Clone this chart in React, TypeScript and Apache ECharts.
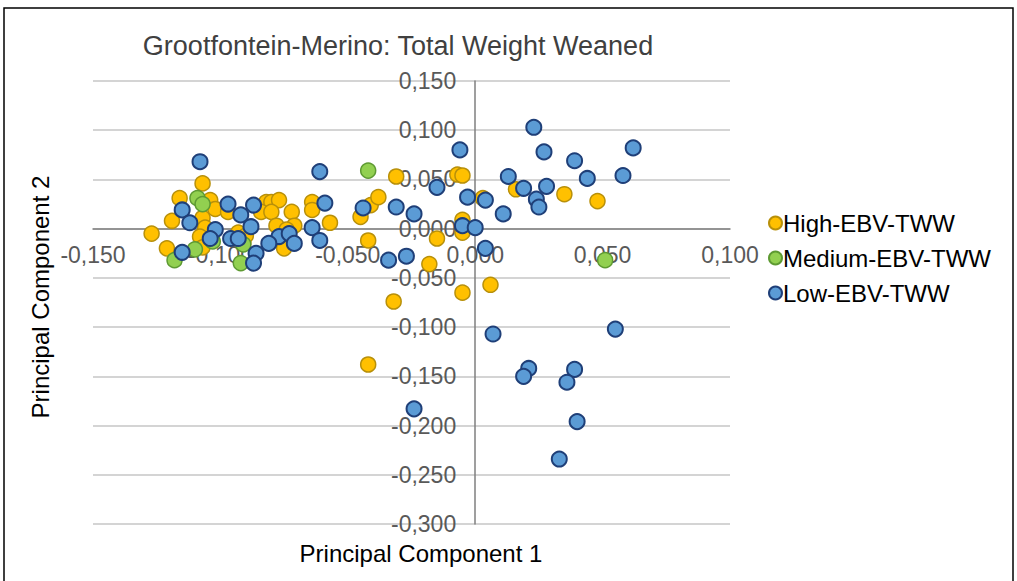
import React, { useEffect, useRef } from "react";
import * as echarts from "echarts";

// Principal component scores (PC1, PC2) per EBV group
const highEbv: [number, number][] = [
  [-0.127, -0.005], [-0.121, -0.020], [-0.119, 0.008], [-0.116, 0.031], [-0.107, 0.046],
  [-0.104, 0.029], [-0.102, 0.020], [-0.097, 0.017], [-0.107, 0.011], [-0.106, 0.001],
  [-0.108, -0.008], [-0.107, -0.019], [-0.093, -0.004], [-0.091, -0.014], [-0.090, -0.007],
  [-0.082, 0.027], [-0.080, 0.027], [-0.077, 0.029], [-0.084, 0.017], [-0.080, 0.017],
  [-0.072, 0.017], [-0.078, 0.003], [-0.071, 0.003], [-0.074, -0.001], [-0.075, -0.020],
  [-0.064, 0.027], [-0.064, 0.019], [-0.057, 0.006], [-0.045, 0.012], [-0.041, 0.024],
  [-0.038, 0.032], [-0.031, 0.053], [-0.042, -0.012], [-0.007, 0.055], [-0.005, 0.054],
  [0.003, 0.031], [-0.005, 0.009], [-0.005, -0.004], [-0.015, -0.010], [-0.018, -0.036],
  [0.006, -0.057], [-0.005, -0.065], [-0.032, -0.074], [-0.042, -0.138], [0.016, 0.040],
  [0.035, 0.035], [0.048, 0.028],
];

const mediumEbv: [number, number][] = [
  [-0.109, 0.031], [-0.107, 0.025], [-0.103, -0.013], [-0.118, -0.032], [-0.110, -0.021],
  [-0.092, -0.035], [-0.091, -0.016], [-0.042, 0.059], [0.051, -0.032],
];

const lowEbv: [number, number][] = [
  [-0.108, 0.068], [-0.115, 0.019], [-0.112, 0.006], [-0.115, -0.024], [-0.102, -0.001],
  [-0.104, -0.010], [-0.097, 0.025], [-0.096, -0.010], [-0.093, -0.010], [-0.092, 0.014],
  [-0.087, 0.024], [-0.088, 0.002], [-0.086, -0.025], [-0.087, -0.035], [-0.077, -0.008],
  [-0.073, -0.005], [-0.071, -0.015], [-0.081, -0.015], [-0.061, 0.058], [-0.059, 0.026],
  [-0.064, 0.001], [-0.061, -0.012], [-0.044, 0.021], [-0.031, 0.022], [-0.024, 0.015],
  [-0.034, -0.032], [-0.027, -0.028], [-0.006, 0.080], [-0.015, 0.042], [-0.003, 0.032],
  [0.004, 0.029], [-0.005, 0.003], [0.000, 0.001], [0.004, -0.020], [0.007, -0.107],
  [-0.024, -0.183], [0.011, 0.015], [0.013, 0.053], [0.019, 0.041], [0.023, 0.103],
  [0.027, 0.078], [0.028, 0.043], [0.024, 0.030], [0.025, 0.022], [0.039, 0.069],
  [0.044, 0.051], [0.058, 0.054], [0.062, 0.082], [0.055, -0.102], [0.021, -0.142],
  [0.019, -0.150], [0.039, -0.143], [0.036, -0.156], [0.040, -0.196], [0.033, -0.234],
];

const seriesNames = ["High-EBV-TWW", "Medium-EBV-TWW", "Low-EBV-TWW"];
const chartTitle = "Grootfontein-Merino: Total Weight Weaned";
const xTitle = "Principal Component 1";
const yTitle = "Principal Component 2";

const X_MIN = -0.15;
const X_MAX = 0.1;
const Y_MIN = -0.3;
const Y_MAX = 0.15;
const STEP = 0.05;

const FONT = "'Liberation Sans', Arial, sans-serif";
const fmt = (v: number) => v.toFixed(3).replace(".", ",");

// Plot box in pixels
const GRID = { left: 93, right: 287, top: 81, bottom: 57 };
const W = 1017;
const H = 581;

export default function App() {
  const ref = useRef<HTMLDivElement>(null);

  useEffect(() => {
    document.body.style.margin = "0";
    if (!ref.current) return;
    const chart = echarts.init(ref.current, null, { renderer: "svg" });

    // Axes cross at zero: shift each axis from the plot edge to the other axis' zero
    const plotW = W - GRID.left - GRID.right;
    const plotH = H - GRID.top - GRID.bottom;
    const xShift = (-Y_MIN / (Y_MAX - Y_MIN)) * plotH;
    const yShift = (-X_MIN / (X_MAX - X_MIN)) * plotW;

    const scatter = (name: string, data: [number, number][], fill: string, stroke: string, bw: number) => ({
      name,
      type: "scatter",
      data,
      symbol: "circle",
      symbolSize: 15,
      itemStyle: { color: fill, borderColor: stroke, borderWidth: bw, opacity: 1 },
      emphasis: { disabled: true },
    });

    chart.setOption({
      animation: false,
      backgroundColor: "#ffffff",
      textStyle: { fontFamily: FONT },
      grid: { ...GRID, containLabel: false },
      xAxis: {
        type: "value",
        min: X_MIN,
        max: X_MAX,
        interval: STEP,
        position: "bottom",
        offset: -xShift,
        axisLine: { onZero: false, lineStyle: { color: "#7f7f7f", width: 1.5 } },
        axisTick: { show: false },
        splitLine: { show: false },
        axisLabel: { fontSize: 23, color: "#595959", margin: 15, formatter: fmt, fontFamily: FONT },
      },
      yAxis: {
        type: "value",
        min: Y_MIN,
        max: Y_MAX,
        interval: STEP,
        position: "left",
        offset: -yShift,
        axisLine: { show: true, onZero: false, lineStyle: { color: "#7f7f7f", width: 1.5 } },
        axisTick: { show: false },
        splitLine: { show: true, lineStyle: { color: "#c6c6c6", width: 1.5 } },
        axisLabel: { fontSize: 23, color: "#595959", margin: 19, formatter: fmt, fontFamily: FONT },
      },
      legend: {
        orient: "vertical",
        left: 763,
        top: 206,
        itemGap: 11,
        itemWidth: 13,
        itemHeight: 13,
        icon: "circle",
        textStyle: { fontSize: 24, color: "#000000", fontFamily: FONT, padding: [0, 0, 0, -4] },
        data: seriesNames,
      },
      graphic: [
        {
          type: "rect",
          shape: { x: 4, y: 8, width: 1009, height: 590 },
          style: { fill: "none", stroke: "#000000", lineWidth: 1.5 },
          silent: true,
        },
        {
          type: "text",
          x: 398,
          y: 46,
          style: { text: chartTitle, font: `27px ${FONT}`, fill: "#404040", align: "center", verticalAlign: "middle" },
        },
        {
          type: "text",
          x: 421,
          y: 553,
          style: { text: xTitle, font: `24px ${FONT}`, fill: "#000000", align: "center", verticalAlign: "middle" },
        },
        {
          type: "text",
          x: 40,
          y: 297,
          rotation: Math.PI / 2,
          style: { text: yTitle, font: `24px ${FONT}`, fill: "#000000", align: "center", verticalAlign: "middle" },
        },
      ],
      series: [
        scatter(seriesNames[0], highEbv, "#FFC000", "#B8900A", 1.5),
        scatter(seriesNames[1], mediumEbv, "#92D050", "#5E9A32", 1.5),
        scatter(seriesNames[2], lowEbv, "#5B9BD5", "#1F3F78", 2),
      ],
    });

    return () => chart.dispose();
  }, []);

  return <div ref={ref} style={{ width: W, height: H }} />;
}
